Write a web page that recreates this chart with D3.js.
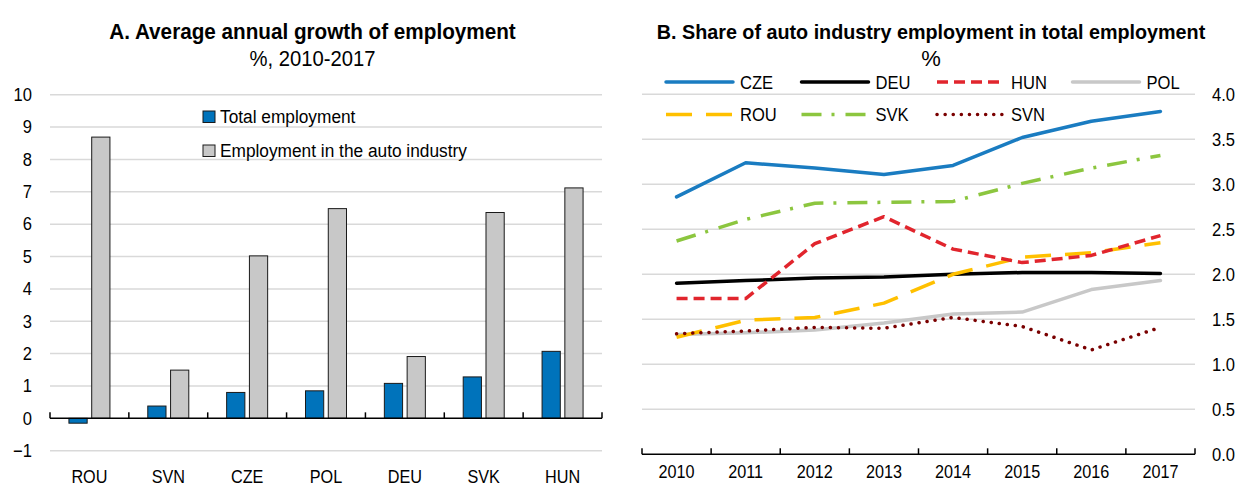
<!DOCTYPE html>
<html>
<head>
<meta charset="utf-8">
<script src="https://cdn.jsdelivr.net/npm/d3@7"></script>
<style>
  body { margin: 0; background: #fff; }
  svg text { font-family: "Liberation Sans Narrow", "Arial Narrow", "Liberation Sans", sans-serif; fill: #000; }
</style>
</head>
<body>
<div id="vis"></div>
<script>
///////data/////////////////////////////////////////////////
var countriesA = ["ROU", "SVN", "CZE", "POL", "DEU", "SVK", "HUN"]
var totalEmp = [-0.15, 0.38, 0.80, 0.85, 1.08, 1.28, 2.07]
var autoEmp = [8.69, 1.49, 5.02, 6.48, 1.91, 6.36, 7.12]
var seriesA = ["Total employment", "Employment in the auto industry"]
var ticksA = [-1, 0, 1, 2, 3, 4, 5, 6, 7, 8, 9, 10]

var years = [2010, 2011, 2012, 2013, 2014, 2015, 2016, 2017]
var CZE = [2.86, 3.24, 3.18, 3.11, 3.21, 3.52, 3.70, 3.81]
var DEU = [1.90, 1.93, 1.96, 1.97, 2.00, 2.02, 2.02, 2.01]
var HUN = [1.73, 1.73, 2.34, 2.64, 2.28, 2.13, 2.21, 2.43]
var POL = [1.33, 1.35, 1.38, 1.46, 1.56, 1.58, 1.83, 1.93]
var ROU = [1.30, 1.49, 1.52, 1.68, 2.00, 2.19, 2.24, 2.35]
var SVK = [2.37, 2.61, 2.79, 2.80, 2.81, 3.01, 3.18, 3.32]
var SVN = [1.34, 1.37, 1.41, 1.40, 1.52, 1.42, 1.16, 1.41]
var ticksB = [0, 0.5, 1, 1.5, 2, 2.5, 3, 3.5, 4]

var width = 1241
var height = 487

const svg = d3.select("#vis").append("svg")
    .attr("width", width)
    .attr("height", height)

// no narrow font installed, so squeeze the text a bit
function condense(sel, f) {
  sel.each(function() {
    var w = this.getComputedTextLength()
    d3.select(this).attr("textLength", w * f).attr("lengthAdjust", "spacingAndGlyphs")
  })
}

////////panel A//////////////////////////////////////////////
const xA = d3.scaleBand().domain(countriesA).range([50, 602])
const xA1 = d3.scaleBand().domain(seriesA)
    .range([xA.bandwidth() * 0.24, xA.bandwidth() * 0.76]).paddingInner(0.2)
const yA = d3.scaleLinear().domain([-1, 10]).range([450.7, 94.7])
const colA = ["#0073bb", "#c8c8c8"]

svg.append("text").attr("x", 312.5).attr("y", 39).attr("text-anchor", "middle")
    .attr("font-size", 22).attr("font-weight", "bold").attr("class", "ttl")
    .text("A. Average annual growth of employment")
svg.append("text").attr("x", 312.5).attr("y", 66).attr("text-anchor", "middle")
    .attr("font-size", 22).attr("class", "sub")
    .text("%, 2010-2017")

const gA = svg.append("g")
gA.selectAll("line.grid").data(ticksA.filter(d => d != 0)).join("line")
    .attr("x1", 50).attr("x2", 602)
    .attr("y1", d => yA(d)).attr("y2", d => yA(d))
    .attr("stroke", "#d9d9d9").attr("stroke-width", 1.5)

gA.append("g").attr("transform", "translate(32,0)")
    .call(d3.axisLeft(yA).tickValues(ticksA).tickSize(0).tickPadding(0).tickFormat(d3.format("d")))
    .call(g => g.select(".domain").remove())
    .call(g => g.selectAll("text").attr("font-size", 18).attr("font-family", null).attr("fill", "#000"))

var rowsA = countriesA.map((c, i) => ({c: c, vals: [totalEmp[i], autoEmp[i]]}))
gA.selectAll("g.grp").data(rowsA).join("g")
    .attr("transform", d => "translate(" + xA(d.c) + ",0)")
    .selectAll("rect").data(d => d.vals.map((v, j) => ({s: seriesA[j], v: v, j: j}))).join("rect")
    .attr("x", d => xA1(d.s))
    .attr("width", xA1.bandwidth())
    .attr("y", d => yA(Math.max(0, d.v)))
    .attr("height", d => Math.abs(yA(d.v) - yA(0)))
    .attr("fill", d => colA[d.j])
    .attr("stroke", "#1a1a1a").attr("stroke-width", 1)

// zero axis with upward ticks
gA.append("line").attr("x1", 50).attr("x2", 602).attr("y1", yA(0)).attr("y2", yA(0))
    .attr("stroke", "#000").attr("stroke-width", 1.5)
gA.selectAll("line.tk").data(countriesA.concat(["end"])).join("line")
    .attr("x1", (d, i) => 50 + i * xA.step()).attr("x2", (d, i) => 50 + i * xA.step())
    .attr("y1", yA(0)).attr("y2", yA(0) - 6)
    .attr("stroke", "#000").attr("stroke-width", 1.5)

gA.selectAll("text.xl").data(countriesA).join("text")
    .attr("class", "xl")
    .attr("x", d => xA(d) + xA.bandwidth() / 2).attr("y", 483)
    .attr("text-anchor", "middle").attr("font-size", 18)
    .text(d => d)

const legA = gA.selectAll("g.leg").data(seriesA).join("g")
    .attr("transform", (d, i) => "translate(203," + (111 + i * 34) + ")")
legA.append("rect").attr("width", 12).attr("height", 11.5)
    .attr("fill", (d, i) => colA[i]).attr("stroke", "#1a1a1a")
legA.append("text").attr("class", "lg").attr("x", 17).attr("y", 12).attr("font-size", 18).text(d => d)

////////panel B//////////////////////////////////////////////
const xB = d3.scaleBand().domain(years).range([642, 1195])
const yB = d3.scaleLinear().domain([0, 4]).range([454.3, 94.3])

svg.append("text").attr("x", 931).attr("y", 39).attr("text-anchor", "middle")
    .attr("font-size", 21).attr("font-weight", "bold").attr("class", "ttl")
    .text("B. Share of auto industry employment in total employment")
svg.append("text").attr("x", 931).attr("y", 66).attr("text-anchor", "middle")
    .attr("font-size", 22)
    .text("%")

const gB = svg.append("g")
gB.selectAll("line.grid").data(ticksB.filter(d => d != 0)).join("line")
    .attr("x1", 642).attr("x2", 1195)
    .attr("y1", d => yB(d)).attr("y2", d => yB(d))
    .attr("stroke", "#d9d9d9").attr("stroke-width", 1.5)

gB.append("g").attr("transform", "translate(1212,0)")
    .call(d3.axisRight(yB).tickValues(ticksB).tickSize(0).tickPadding(0).tickFormat(d3.format(".1f")))
    .call(g => g.select(".domain").remove())
    .call(g => g.selectAll("text").attr("font-size", 18).attr("font-family", null).attr("fill", "#000"))

gB.append("line").attr("x1", 642).attr("x2", 1195).attr("y1", yB(0)).attr("y2", yB(0))
    .attr("stroke", "#000").attr("stroke-width", 1.5)
gB.selectAll("line.tk").data(years.concat(["end"])).join("line")
    .attr("x1", (d, i) => 642 + i * xB.step()).attr("x2", (d, i) => 642 + i * xB.step())
    .attr("y1", yB(0)).attr("y2", yB(0) - 6)
    .attr("stroke", "#000").attr("stroke-width", 1.5)

gB.selectAll("text.xl").data(years).join("text")
    .attr("class", "xl")
    .attr("x", d => xB(d) + xB.bandwidth() / 2).attr("y", 478)
    .attr("text-anchor", "middle").attr("font-size", 18)
    .text(d => d)

var seriesB = [
  {name: "CZE", vals: CZE, color: "#1a7cc1", dash: null, cap: "round"},
  {name: "DEU", vals: DEU, color: "#000000", dash: null, cap: "round"},
  {name: "HUN", vals: HUN, color: "#e1252d", dash: "11,6", cap: "butt"},
  {name: "POL", vals: POL, color: "#c8c8c8", dash: null, cap: "round"},
  {name: "ROU", vals: ROU, color: "#ffc000", dash: "26,14", cap: "butt"},
  {name: "SVK", vals: SVK, color: "#8cc63f", dash: "20,10,3,11", cap: "butt"},
  {name: "SVN", vals: SVN, color: "#7a0000", dash: "0.1,8", cap: "round"}
]
// draw order: lighter lines underneath
var drawOrder = ["POL", "SVK", "DEU", "ROU", "HUN", "SVN", "CZE"]

const line = d3.line()
    .x((d, i) => xB(years[i]) + xB.bandwidth() / 2)
    .y(d => yB(d))

gB.selectAll("path.ln").data(drawOrder.map(n => seriesB.find(s => s.name == n))).join("path")
    .attr("d", d => line(d.vals))
    .attr("fill", "none")
    .attr("stroke", d => d.color)
    .attr("stroke-width", 3.5)
    .attr("stroke-dasharray", d => d.dash)
    .attr("stroke-linecap", d => d.cap)
    .attr("stroke-linejoin", "round")

const legB = gB.selectAll("g.leg").data(seriesB).join("g")
    .attr("transform", (d, i) => "translate(" + (666 + (i % 4) * 135.5) + "," + (82 + Math.floor(i / 4) * 32.5) + ")")
legB.append("line").attr("x1", 0).attr("x2", 67)
    .attr("stroke", d => d.color).attr("stroke-width", 3.5)
    .attr("stroke-dasharray", d => d.dash)
    .attr("stroke-linecap", d => d.cap)
legB.append("text").attr("class", "lgb").attr("x", 74).attr("y", 6.5).attr("font-size", 18).text(d => d.name)

condense(svg.selectAll("text.ttl"), 0.94)
condense(svg.selectAll("text.xl"), 0.9)
condense(svg.selectAll(".tick text"), 0.92)
condense(svg.selectAll("text.lg"), 0.96)
condense(svg.selectAll("text.lgb"), 0.92)
condense(svg.selectAll("text.sub"), 0.92)
</script>
</body>
</html>
